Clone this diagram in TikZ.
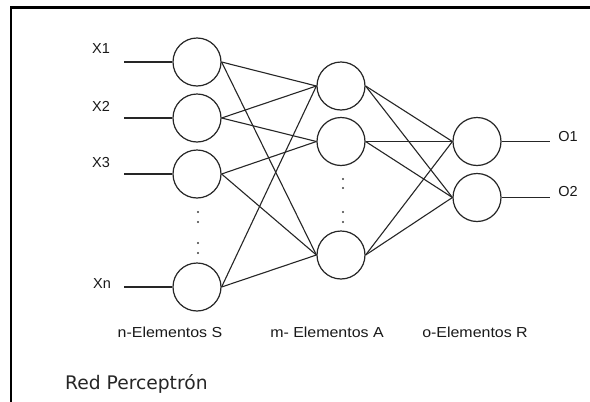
\documentclass[tikz,border=0pt]{standalone}
\usepackage{fontspec}
\setmainfont{Liberation Sans}
\newfontfamily\titlefont{DejaVu Sans}
\begin{document}
\begin{tikzpicture}[x=1pt,y=-1pt,
  neuron/.style={circle,draw=black!85,line width=1.2pt,minimum size=48pt,inner sep=0pt},
  link/.style={draw=black!85,line width=1.1pt},
  lbl/.style={font=\fontsize{14.5}{16}\selectfont,text=black!90,inner sep=0pt,anchor=base},
  dotmark/.style={fill=black!75}]
\useasboundingbox (0,0) rectangle (590,402);
\fill[white] (0,0) rectangle (590,402);
% frame
\draw[line width=2.2pt,black] (11,402) -- (11,7.5) -- (590,7.5);
% neurons
\node[neuron] (s1) at (197,62) {};
\node[neuron] (s2) at (197,118) {};
\node[neuron] (s3) at (197,174) {};
\node[neuron] (sn) at (197,287) {};
\node[neuron] (a1) at (341,86) {};
\node[neuron] (a2) at (341,141.5) {};
\node[neuron] (a3) at (341,255) {};
\node[neuron] (r1) at (477,141.5) {};
\node[neuron] (r2) at (477,197.5) {};
% input / output ends
\coordinate (i1) at (124,62);
\coordinate (i2) at (124,118);
\coordinate (i3) at (124,174);
\coordinate (in) at (124,287);
\coordinate (o1) at (550,141.5);
\coordinate (o2) at (550,197.5);
\draw[link] (i1) -- (s1.west);
\draw[link] (i2) -- (s2.west);
\draw[link] (i3) -- (s3.west);
\draw[link] (in) -- (sn.west);
\draw[link] (r1.east) -- (o1);
\draw[link] (r2.east) -- (o2);
% S -> A
\draw[link] (s1.east) -- (a1.west);
\draw[link] (s1.east) -- (a3.west);
\draw[link] (s2.east) -- (a1.west);
\draw[link] (s2.east) -- (a2.west);
\draw[link] (s3.east) -- (a2.west);
\draw[link] (s3.east) -- (a3.west);
\draw[link] (sn.east) -- (a1.west);
\draw[link] (sn.east) -- (a3.west);
% A -> R
\foreach \a in {a1,a2,a3}{
  \foreach \r in {r1,r2}{
    \draw[link] (\a.east) -- (\r.west);
  }
}
% dots
\foreach \y in {212,222,243,253} \fill[dotmark] (198,\y) circle (1.1pt);
\foreach \y in {179,188,212,222} \fill[dotmark] (343,\y) circle (1.1pt);
% labels
\node[lbl] (lx1) at (101,53) {X1};
\node[lbl] (lx2) at (101,111) {X2};
\node[lbl] (lx3) at (101,167) {X3};
\node[lbl] (lxn) at (102,288) {Xn};
\node[lbl] (lo1) at (568,141) {O1};
\node[lbl] (lo2) at (568,196) {O2};
\node[lbl] (ls) at (170,337) {\scalebox{1.1}[1]{n-Elementos S}};
\node[lbl] (la) at (327,337) {\scalebox{1.1}[1]{m- Elementos A}};
\node[lbl] (lr) at (475,337) {\scalebox{1.1}[1]{o-Elementos R}};
\node[anchor=base west,inner sep=0pt,font=\titlefont\fontsize{18.7}{22}\selectfont,text=black!85] (title) at (65,389) {Red Perceptrón};
\end{tikzpicture}
\end{document}
